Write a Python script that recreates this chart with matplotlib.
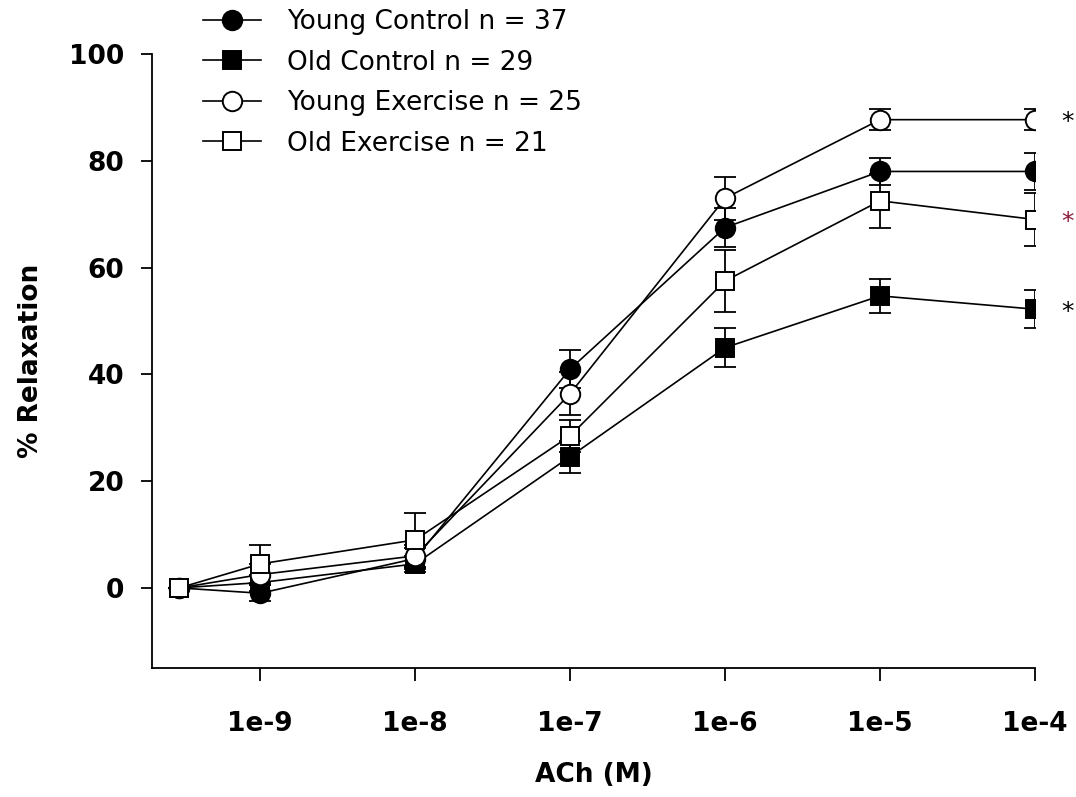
import matplotlib
matplotlib.use("Agg")
import matplotlib.pyplot as plt

# ACh concentration (M); first point is the baseline (no drug)
conc = [3e-10, 1e-9, 1e-8, 1e-7, 1e-6, 1e-5, 1e-4]

young_control = [0, -1.0, 5.5, 41.0, 67.5, 78.0, 78.0]
young_control_err = [0, 1.5, 2.0, 3.5, 3.7, 2.5, 3.5]

old_control = [0, 1.0, 4.5, 24.6, 45.0, 54.7, 52.2]
old_control_err = [0, 1.5, 1.5, 3.0, 3.7, 3.2, 3.6]

young_exercise = [0, 2.5, 6.0, 36.4, 73.0, 87.7, 87.7]
young_exercise_err = [0, 2.0, 2.0, 4.0, 4.0, 2.0, 2.0]

old_exercise = [0, 4.5, 9.0, 28.5, 57.5, 72.5, 69.0]
old_exercise_err = [0, 3.5, 5.0, 3.0, 5.8, 5.0, 5.0]

series = [
    ("Young Control n = 37", young_control, young_control_err, "o", "black"),
    ("Old Control n = 29", old_control, old_control_err, "s", "black"),
    ("Young Exercise n = 25", young_exercise, young_exercise_err, "o", "white"),
    ("Old Exercise n = 21", old_exercise, old_exercise_err, "s", "white"),
]

fig = plt.figure(figsize=(10.76, 7.97), dpi=100)
ax = fig.add_axes([152 / 1076, 1 - 668 / 797, (1035 - 152) / 1076, (668 - 54) / 797])

handles = []
for label, y, err, marker, face in series:
    ms = 14 if marker == "o" else 13
    ax.errorbar(conc, y, yerr=err, fmt="none", ecolor="black",
                elinewidth=1.3, capsize=8, capthick=1.3, zorder=2)
    h, = ax.plot(conc, y, color="black", lw=1.2, marker=marker, ms=ms,
                 mfc=face, mec="black", mew=1.4, label=label, zorder=3)
    handles.append(h)

ax.set_xscale("log")
ax.set_xlim(2e-10, 1e-4)
ax.set_ylim(-15, 100)
ax.set_xticks([1e-9, 1e-8, 1e-7, 1e-6, 1e-5, 1e-4])
ax.set_xticklabels(["1e-9", "1e-8", "1e-7", "1e-6", "1e-5", "1e-4"])
ax.minorticks_off()
ax.set_yticks([0, 20, 40, 60, 80, 100])

for s in ["top", "right"]:
    ax.spines[s].set_visible(False)
for s in ["left", "bottom"]:
    ax.spines[s].set_linewidth(1.3)

ax.tick_params(axis="y", length=8, width=1.3, pad=12, labelsize=19)
ax.tick_params(axis="x", length=9, width=1.3, pad=22, labelsize=19)
for lab in ax.get_xticklabels() + ax.get_yticklabels():
    lab.set_fontweight("bold")

ax.set_xlabel("ACh (M)", fontsize=19, fontweight="bold", labelpad=18)
ax.set_ylabel("% Relaxation", fontsize=19, fontweight="bold", labelpad=18)

# significance marks at the right edge
marks = [(young_exercise[-1], "black"), (old_exercise[-1], "#8b1a3a"), (old_control[-1], "black")]
for yv, col in marks:
    ax.annotate("*", xy=(1e-4, yv), xytext=(19, -2), textcoords="offset points",
                fontsize=18, color=col, ha="left", va="center", annotation_clip=False)

fig.legend(handles=handles, loc="upper left", bbox_to_anchor=(203 / 1076, 1 - 9 / 797),
           frameon=False, fontsize=19, handlelength=2.2, handletextpad=1.0,
           labelspacing=0.55, borderpad=0, borderaxespad=0)

fig.savefig("out.png", dpi=100)
